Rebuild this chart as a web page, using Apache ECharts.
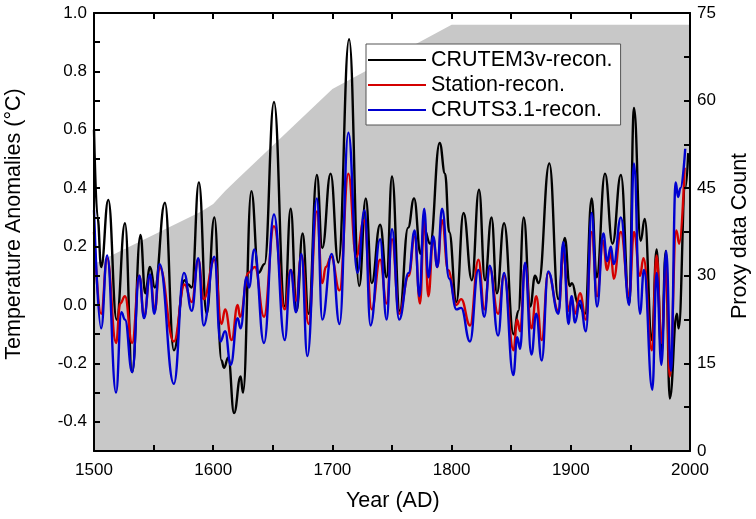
<!DOCTYPE html>
<html>
<head>
<meta charset="utf-8">
<script src="https://cdn.jsdelivr.net/npm/echarts@6/dist/echarts.min.js"></script>
<style>
html,body{margin:0;padding:0;background:#fff;}
#c{width:756px;height:519px;}
</style>
</head>
<body>
<div id="c"></div>
<script>
// Proxy data count (right axis)
const proxyYears = [1500, 1590, 1600, 1610, 1620, 1700, 1730, 1800, 2000];
const proxyCount = [32, 41, 42.3, 44.5, 46.5, 62, 65.3, 73, 73];

// CRUTEM3v-recon.
const blackYears = [1500,1503,1506,1512,1519,1526,1532,1539,1543,1547,1551,1559.5,1567,1576,1579,1582,1588,1594.5,1601,1607,1609,1612.7,1617.5,1623,1625,1632,1638,1643,1651,1660,1665,1670,1675,1680,1687,1691.5,1698.5,1705,1714,1722.5,1728,1733,1740,1745.5,1750,1756.5,1763.5,1768.5,1774,1777,1782,1790,1794.5,1798,1804,1810,1817,1823,1828,1833.5,1838,1844,1852,1856,1860.5,1866,1870,1873,1882,1889.5,1895,1899,1901,1906,1912,1917.5,1921.7,1928.7,1935,1942,1949,1953,1958.6,1962,1968,1972,1976,1979.7,1983,1989,1990.5,1996,1998.5];
const blackVals = [0.60,0.30,0.13,0.36,-0.05,0.28,-0.23,0.24,0.04,0.13,0.06,0.35,-0.155,0.085,0.07,0.06,0.42,-0.03,0.30,-0.19,-0.215,-0.18,-0.37,-0.245,-0.30,0.39,0.11,0.14,0.695,-0.005,0.33,-0.02,0.245,-0.03,0.445,0.195,0.45,0.145,0.91,0.065,0.365,0.075,0.275,0.095,0.44,-0.02,0.265,0.365,0.175,0.26,0.21,0.555,0.45,0.25,0.01,0.315,0.085,0.395,0.085,0.30,0.04,0.28,-0.10,-0.02,0.30,-0.005,0.10,0.075,0.485,0.02,0.23,0.065,0.075,0.005,-0.03,0.365,0.095,0.45,0.21,0.445,0.005,0.675,0.22,0.295,-0.12,0.19,-0.165,0.185,-0.32,-0.03,-0.08,0.40,0.52];

// Station-recon.
const redYears = [1500,1506,1511,1518.5,1522,1526,1532,1538,1542,1547,1551,1555,1567,1576,1582,1587.5,1592,1601,1607,1610,1615.5,1620.5,1622.5,1629.5,1635,1642.6,1651,1660,1665,1669.5,1674,1680,1687,1691.5,1694.5,1699,1706,1713.4,1720,1726.5,1733,1740,1745.5,1750,1756,1764,1769,1773.5,1777,1780.5,1784.6,1788,1792,1797,1804,1808,1815.5,1822.5,1827.5,1832,1839,1844,1852,1855,1857.5,1861.6,1867,1871,1875.6,1881,1889.6,1894,1898,1900.7,1903.5,1907.7,1912.7,1917.5,1922,1927,1930.5,1933.6,1936,1942,1949,1953,1958,1961,1968,1972,1976,1980,1983,1988.5,1991,1995.5];
const redVals = [0.25,-0.03,0.16,-0.13,0.005,0.03,-0.13,0.10,-0.04,0.10,-0.02,0.13,-0.125,0.07,0.01,0.155,0.02,0.155,-0.065,-0.015,-0.12,0.0,-0.04,0.11,0.13,-0.04,0.27,-0.015,0.12,0.015,0.17,-0.065,0.32,0.075,0.13,0.165,0.05,0.45,0.165,0.29,-0.015,0.155,0.005,0.225,-0.03,0.10,0.235,0.005,0.30,0.03,0.23,0.13,0.29,0.12,0.0,0.02,-0.07,0.155,-0.015,0.125,-0.03,0.10,-0.155,-0.05,-0.09,0.14,-0.08,0.03,-0.12,0.11,-0.02,0.18,-0.02,0.02,-0.03,0.04,-0.05,0.25,0.03,0.22,0.12,0.18,0.09,0.25,0.03,0.25,0.10,0.16,-0.155,0.17,-0.13,0.13,-0.245,0.255,0.21,0.47];

// CRUTS3.1-recon.
const blueYears = [1500,1506,1511,1518.5,1523,1526,1532,1538,1542,1547,1550.6,1555,1567,1575.5,1582,1587.5,1592,1601,1606,1610,1614.7,1620.5,1623,1628,1630,1634.5,1642.6,1651,1660,1665,1669.5,1674,1679,1687,1691.5,1699.4,1706,1713.4,1721,1727,1732,1740,1745.5,1750,1756,1764,1769,1773,1777,1780.5,1784.6,1788,1792,1798,1804,1808,1815.4,1822.4,1827.4,1832,1839,1844,1851.8,1855,1857.5,1861.6,1867,1871,1875.6,1881,1889.6,1893.7,1898,1900.7,1903.5,1907.7,1912.7,1917.5,1922,1927.3,1930.5,1933.6,1936,1942,1949,1953,1958,1961.4,1968.4,1972,1976,1980,1984,1988,1990,1992,1996];
const blueVals = [0.325,-0.08,0.17,-0.30,-0.025,-0.05,-0.23,0.10,-0.045,0.105,-0.03,0.14,-0.27,0.11,-0.02,0.16,-0.07,0.165,-0.125,-0.09,-0.205,-0.045,-0.08,0.095,0.06,0.19,-0.13,0.31,-0.12,0.12,-0.025,0.175,-0.175,0.365,-0.05,0.175,-0.065,0.59,0.11,0.325,-0.07,0.225,-0.05,0.26,-0.05,0.11,0.255,0.03,0.33,0.095,0.235,0.13,0.33,0.09,-0.015,-0.01,-0.125,0.12,-0.04,0.135,-0.105,0.11,-0.24,-0.11,-0.15,0.145,-0.17,-0.03,-0.19,0.115,-0.03,0.215,-0.065,0.03,-0.06,0.015,-0.09,0.315,-0.005,0.245,0.15,0.20,0.14,0.30,0.0,0.485,-0.03,0.12,-0.29,0.11,-0.205,0.185,-0.225,0.42,0.37,0.40,0.535];

const seriesNames = ['CRUTEM3v-recon.', 'Station-recon.', 'CRUTS3.1-recon.'];

const zip = (xs, ys) => xs.map((x, i) => [x, ys[i]]);

const FONT = 'Liberation Sans, Arial, sans-serif';
const chart = echarts.init(document.getElementById('c'), null, {renderer: 'canvas'});

const axisLine = {show: true, onZero: false, lineStyle: {color: '#000', width: 2}};
const tickStyle = {show: true, inside: true, length: 6, lineStyle: {color: '#000', width: 2}};

chart.setOption({
  animation: false,
  backgroundColor: '#fff',
  grid: {left: 94, right: 66, top: 13, bottom: 68, containLabel: false},
  xAxis: [{
    type: 'value', min: 1500, max: 2000, interval: 50, position: 'bottom', z: 10,
    axisLine: axisLine, axisTick: tickStyle, splitLine: {show: false},
    axisLabel: {fontFamily: FONT, fontSize: 17, color: '#000', margin: 11,
      formatter: v => (v % 100 === 0 ? String(v) : '')}
  }, {
    type: 'value', min: 1500, max: 2000, interval: 50, position: 'top', z: 10,
    axisLine: axisLine, axisTick: tickStyle, splitLine: {show: false},
    axisLabel: {show: false}
  }],
  yAxis: [{
    type: 'value', min: -0.5, max: 1.0, interval: 0.1, position: 'left', z: 10,
    axisLine: axisLine, axisTick: tickStyle, splitLine: {show: false},
    axisLabel: {fontFamily: FONT, fontSize: 17, color: '#000', margin: 7,
      formatter: v => { const k = Math.round(v * 10); return (k % 2 === 0) ? (k / 10).toFixed(1) : ''; }}
  }, {
    type: 'value', min: 0, max: 75, interval: 7.5, position: 'right', z: 10,
    axisLine: axisLine, axisTick: tickStyle, splitLine: {show: false},
    axisLabel: {fontFamily: FONT, fontSize: 17, color: '#000', margin: 7,
      formatter: v => { const k = Math.round(v / 7.5); return (k % 2 === 0) ? String(Math.round(v)) : ''; }}
  }],
  legend: {
    orient: 'vertical', left: 366, top: 44,
    data: seriesNames,
    icon: 'rect', itemWidth: 58, itemHeight: 2, itemGap: 3,
    padding: [5, 8, 4, 2],
    backgroundColor: '#fff', borderColor: '#555', borderWidth: 1, borderRadius: 0,
    textStyle: {fontFamily: FONT, fontSize: 21.5, color: '#000', lineHeight: 22, padding: [0, 0, 0, 0]},
    z: 20
  },
  series: [{
    name: 'Proxy data Count', type: 'line', xAxisIndex: 0, yAxisIndex: 1,
    data: zip(proxyYears, proxyCount), symbol: 'none', silent: true, z: 1,
    lineStyle: {width: 0, color: '#c8c8c8'},
    areaStyle: {color: '#c8c8c8', opacity: 1, origin: 'start'}
  }, {
    name: seriesNames[0], type: 'line', data: zip(blackYears, blackVals),
    symbol: 'none', smooth: 0.45, smoothMonotone: 'x', z: 3,
    lineStyle: {color: '#000', width: 2.4}, itemStyle: {color: '#000'}
  }, {
    name: seriesNames[1], type: 'line', data: zip(redYears, redVals),
    symbol: 'none', smooth: 0.45, smoothMonotone: 'x', z: 4,
    lineStyle: {color: '#d40000', width: 2.4}, itemStyle: {color: '#d40000'}
  }, {
    name: seriesNames[2], type: 'line', data: zip(blueYears, blueVals),
    symbol: 'none', smooth: 0.45, smoothMonotone: 'x', z: 5,
    lineStyle: {color: '#0000d0', width: 2.4}, itemStyle: {color: '#0000d0'}
  }],
  graphic: [{
    type: 'text', left: 346, top: 490,
    style: {text: 'Year (AD)', fontFamily: FONT, fontSize: 21.5, fill: '#000'}
  }, {
    type: 'text', x: 14, y: 224, rotation: Math.PI / 2,
    style: {text: 'Temperature Anomalies (°C)', fontFamily: FONT, fontSize: 21.5, fill: '#000', align: 'center', verticalAlign: 'middle'}
  }, {
    type: 'text', x: 740, y: 236, rotation: Math.PI / 2,
    style: {text: 'Proxy data Count', fontFamily: FONT, fontSize: 21.5, fill: '#000', align: 'center', verticalAlign: 'middle'}
  }]
});
</script>
</body>
</html>
